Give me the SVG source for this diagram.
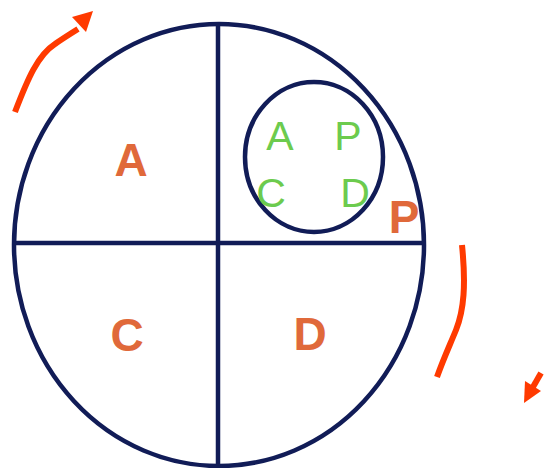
<svg xmlns="http://www.w3.org/2000/svg" width="546" height="468" viewBox="0 0 546 468">
<style>
.ln{fill:none;stroke:#111C57;stroke-width:4.5}
.ar{fill:none;stroke:#FF3A00;stroke-width:6}
.hd{fill:#FF3A00}
.big{font-family:"Liberation Sans",Arial,sans-serif;font-weight:bold;font-size:46px;fill:#E0693A;text-anchor:middle}
.sm{font-family:"Liberation Sans",Arial,sans-serif;font-size:41px;fill:#6CCB4E;text-anchor:middle}
</style>
<g id="circle">
<ellipse class="ln" cx="219" cy="245" rx="205" ry="221"/>
<line class="ln" x1="218" y1="24" x2="218" y2="466"/>
<line class="ln" x1="14" y1="243" x2="424" y2="243"/>
</g>
<g id="inner">
<ellipse class="ln" cx="314" cy="157" rx="69" ry="75"/>
</g>
<g id="labels">
<text class="big" x="131" y="176">A</text>
<text class="big" x="127" y="351">C</text>
<text class="big" x="310" y="350">D</text>
<text class="big" x="404" y="233">P</text>
</g>
<g id="inner-labels">
<text class="sm" x="280" y="150">A</text>
<text class="sm" x="348" y="150">P</text>
<text class="sm" x="271" y="207">C</text>
<text class="sm" x="355" y="207">D</text>
</g>
<g id="connectors">
<path class="ar" d="M15,112 C28,78 38,55 55,44 C62,39 70,34 78,29"/>
<polygon class="hd" points="93,11 72,17 86,32"/>
<path class="ar" d="M462,245 C466,285 464,310 456,330 C449,347 443,360 437,377"/>
<line class="ar" x1="541" y1="373" x2="533" y2="387"/>
<polygon class="hd" points="524,403 525,381 541,391"/>
</g>
</svg>
